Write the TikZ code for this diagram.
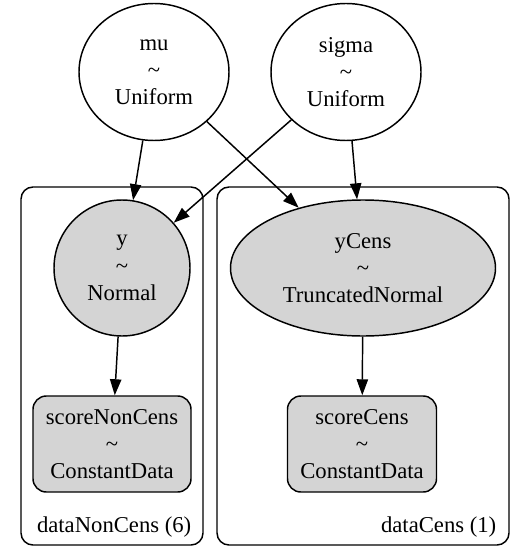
\documentclass[tikz,border=0pt]{standalone}
\usepackage{fontspec}
\setmainfont{Liberation Serif}
\usepackage{tikz}
\usetikzlibrary{shapes.geometric,positioning,arrows.meta}
\colorlet{obsGray}{black!17}

\begin{document}
\begin{tikzpicture}[x=0.75pt, y=-0.75pt, line width=1.1pt,
        every node/.style={font=\fontsize{17}{20.5}\selectfont, align=center, text depth=0pt},
        edge/.style={-{Triangle[length=12pt, width=8.5pt]}},
        plate/.style={draw, rounded corners=9pt, minimum height=268.5pt, inner sep=0pt}]
    \useasboundingbox (0,0) rectangle (525,556);

    % plates
    \node[plate, minimum width=136.5pt] (nonCens) at (112, 366) {};
    \node[plate, minimum width=219pt] (cens) at (363, 366) {};
    \node[anchor=base east, inner sep=0pt] (nonCensLbl) at (192, 532) {dataNonCens (6)};
    \node[anchor=base east, inner sep=0pt] (censLbl) at (497, 532) {dataCens (1)};

    % free variables
    \node[draw, ellipse, inner sep=0pt, minimum width=112.5pt, minimum height=102.75pt] (mu) at (154, 72)
        {mu\\\textasciitilde\\Uniform};
    \node[draw, ellipse, inner sep=0pt, minimum width=112.5pt, minimum height=102.75pt] (sigma) at (346, 72)
        {sigma\\\textasciitilde\\Uniform};

    % observed variables
    \node[draw, fill=obsGray, circle, inner sep=0pt, minimum size=102pt] (y) at (122, 268)
        {y\\\textasciitilde\\Normal};
    \node[draw, fill=obsGray, ellipse, inner sep=0pt, minimum width=198.75pt, minimum height=102pt] (yCens) at (363, 268)
        {yCens\\\textasciitilde\\TruncatedNormal};

    % data
    \node[draw, fill=obsGray, rounded corners=10pt, inner sep=0pt, minimum width=118.5pt, minimum height=72pt] (scoreNonCens) at (112, 444)
        {scoreNonCens\\\textasciitilde\\ConstantData};
    \node[draw, fill=obsGray, rounded corners=10pt, inner sep=0pt, minimum width=111.75pt, minimum height=72pt] (scoreCens) at (362, 444)
        {scoreCens\\\textasciitilde\\ConstantData};

    \draw[edge] (mu) -- (y);
    \draw[edge] (mu) -- (yCens);
    \draw[edge] (sigma) -- (y);
    \draw[edge] (sigma) -- (yCens);
    \draw[edge] (y) -- (scoreNonCens);
    \draw[edge] (yCens) -- (scoreCens);
\end{tikzpicture}
\end{document}
